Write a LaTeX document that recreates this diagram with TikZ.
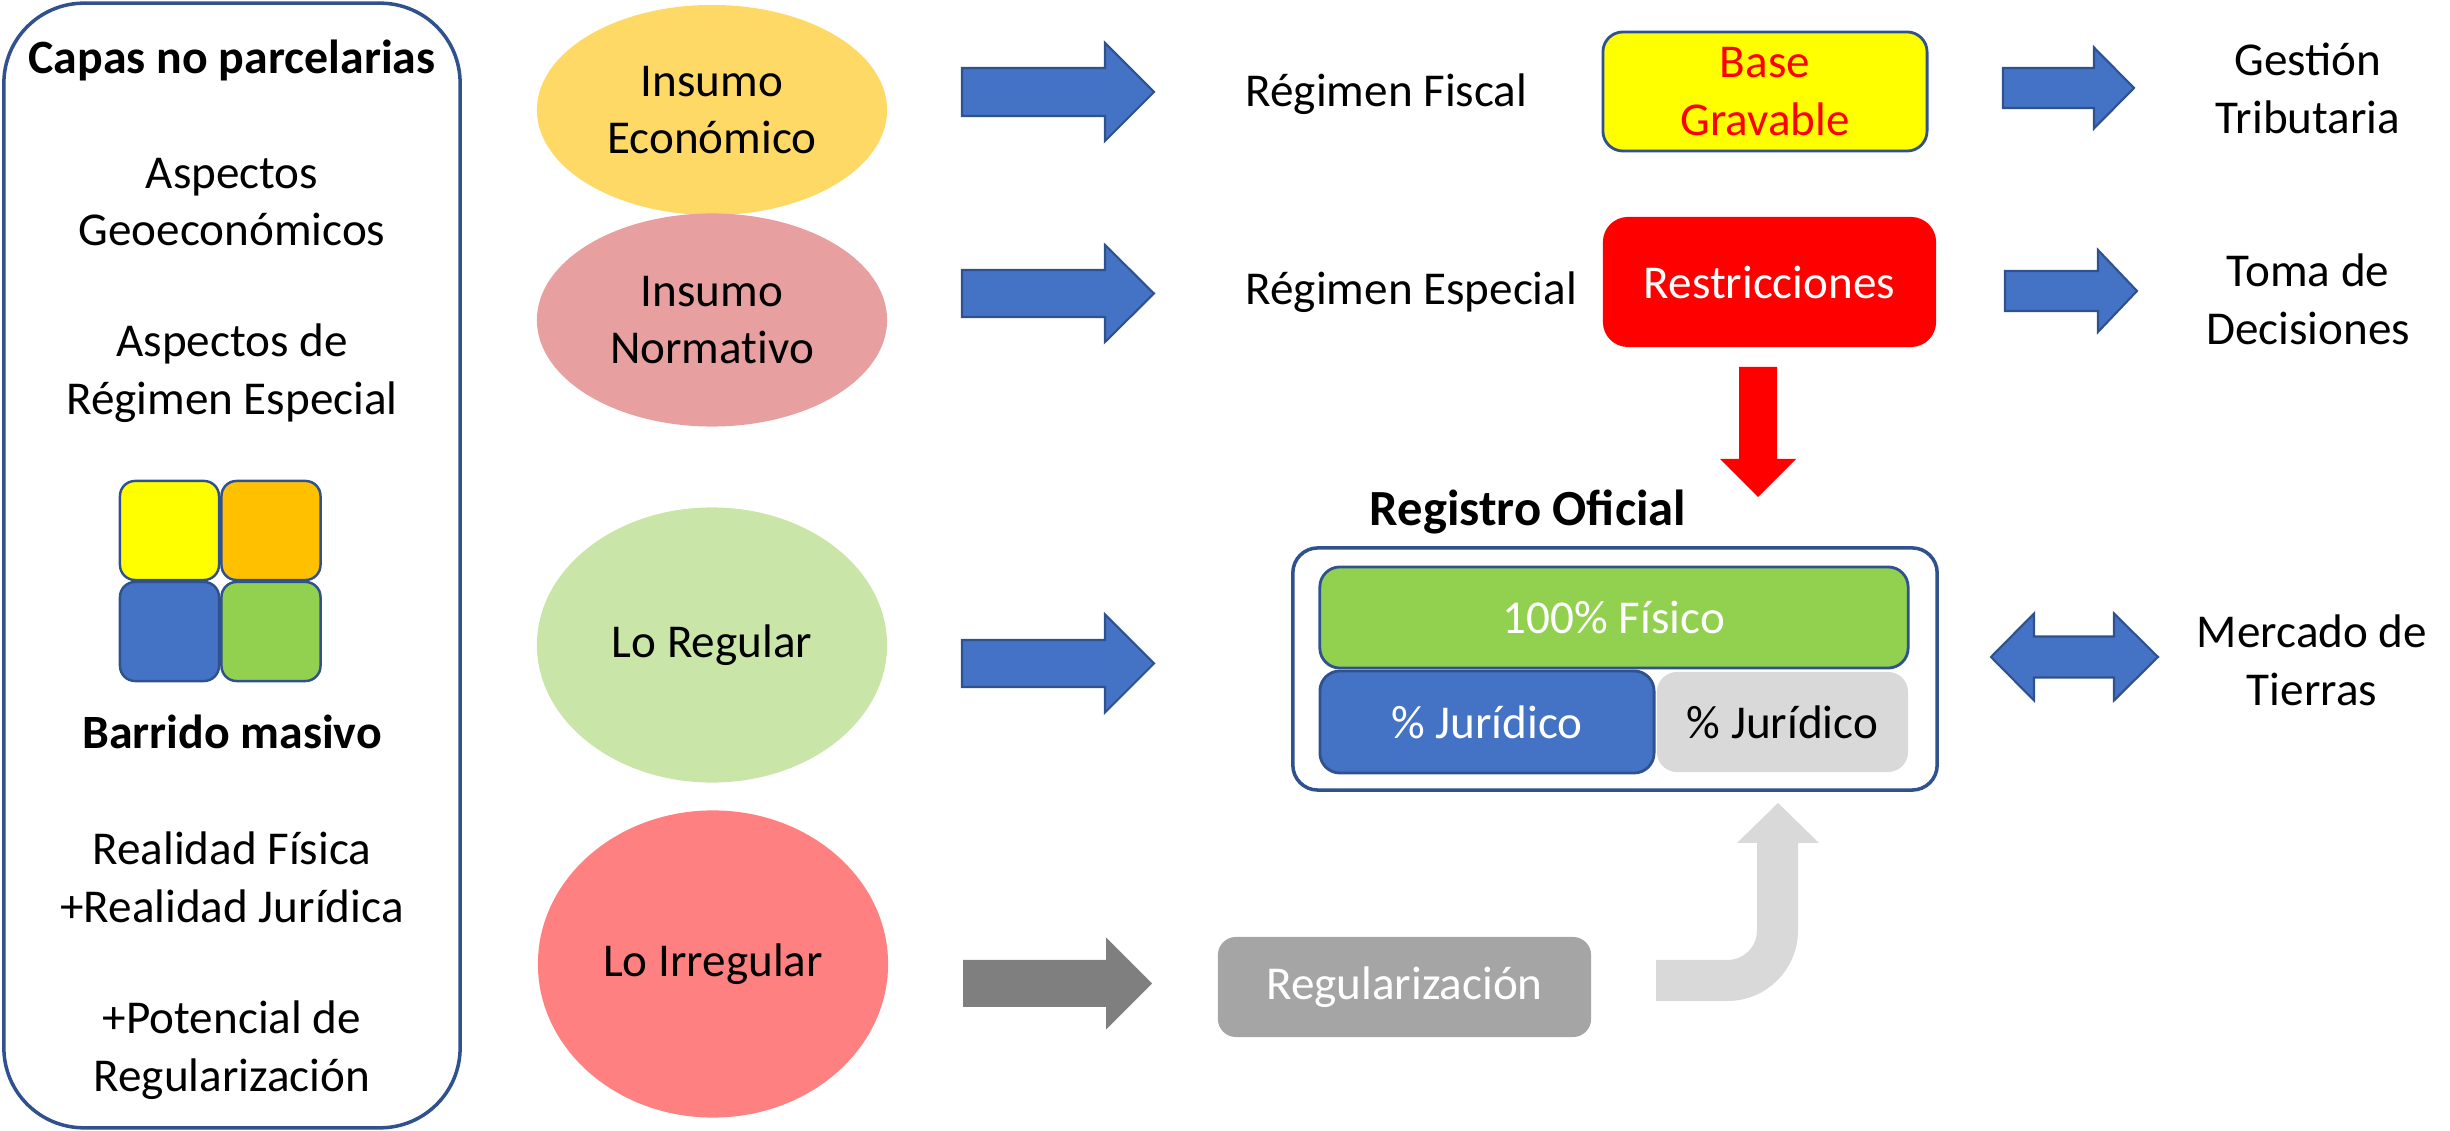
\documentclass[tikz,border=0pt]{standalone}
\usepackage{fontspec}
\setmainfont{Carlito}
\usetikzlibrary{shapes.geometric}

\definecolor{azul}{HTML}{4472C4}
\definecolor{azulborde}{HTML}{2F528F}
\definecolor{oro}{HTML}{FFD966}
\definecolor{rosa}{HTML}{E79F9F}
\definecolor{verdeclaro}{HTML}{C9E5A7}
\definecolor{salmon}{HTML}{FF8080}
\definecolor{verde}{HTML}{92D050}
\definecolor{naranja}{HTML}{FFC000}
\definecolor{amarillo}{HTML}{FFFF00}
\definecolor{rojo}{HTML}{FF0000}
\definecolor{grisclaro}{HTML}{D9D9D9}
\definecolor{gris}{HTML}{A5A5A5}
\definecolor{grisoscuro}{HTML}{7F7F7F}

% block arrow pointing right: style, x start, x head base, x tip, y, shaft half, head half
\newcommand{\flechader}[7]{%
  \path[#1] (#2,#5-#6) -- (#3,#5-#6) -- (#3,#5-#7) -- (#4,#5) -- (#3,#5+#7) -- (#3,#5+#6) -- (#2,#5+#6) -- cycle;}

\begin{document}
\begin{tikzpicture}[x=0.01cm, y=-0.01cm,
    font=\fontsize{13.4}{16.4}\selectfont,
    txt/.style={inner sep=0pt, align=center},
    insumo/.style={ellipse, inner sep=0pt, minimum width=3.5cm, align=center},
    caja/.style={rectangle, inner sep=0pt, align=center, rounded corners=0.2cm},
    cuadro/.style={rectangle, draw=azulborde, line width=0.7pt, rounded corners=0.15cm, minimum width=0.99cm, minimum height=0.99cm},
    flechaazul/.style={fill=azul, draw=azulborde, line width=0.6pt},
    flechagris/.style={fill=grisoscuro},
    flecharoja/.style={fill=rojo}]
  \useasboundingbox (0,0) rectangle (2450,1131);

  % left column
  \node[rectangle, draw=azulborde, line width=1pt, rounded corners=0.8cm, minimum width=4.56cm, minimum height=11.24cm] (capas) at (232,565.5) {};
  \node[txt, font=\fontsize{13.6}{16.4}\selectfont\bfseries] (capasT) at (232,60) {Capas no parcelarias};
  \node[txt] (geoeco) at (232,202) {Aspectos\\Geoeconómicos};
  \node[txt] (regesp) at (232,373) {Aspectos de\\Régimen Especial};
  \node[cuadro, fill=amarillo] (sq1) at (169.5,530.5) {};
  \node[cuadro, fill=naranja] (sq2) at (271,530.5) {};
  \node[cuadro, fill=azul] (sq3) at (169.5,631.5) {};
  \node[cuadro, fill=verde] (sq4) at (271,631.5) {};
  \node[txt, font=\fontsize{13.6}{16.4}\selectfont\bfseries] (barrido) at (232,732) {Barrido masivo};
  \node[txt] (realidad) at (232,877) {Realidad Física\\+Realidad Jurídica};
  \node[txt] (potencial) at (232,1050) {+Potencial de\\Regularización};

  % inputs
  \node[insumo, fill=oro, minimum height=2.1cm] (insEco) at (712,110) {Insumo\\Económico};
  \node[insumo, fill=rosa, minimum height=2.13cm] (insNorm) at (712,320) {Insumo\\Normat\kern0pt ivo};
  \node[insumo, fill=verdeclaro, minimum height=2.75cm] (regular) at (712,645) {Lo Regular};
  \node[insumo, fill=salmon, minimum height=3.07cm] (irregular) at (713,964) {Lo Irregular};

  \flechader{flechaazul}{962}{1105}{1154}{92}{24}{49}
  \flechader{flechaazul}{962}{1105}{1154}{293.5}{23.5}{48.5}
  \flechader{flechaazul}{962}{1105}{1154}{663.5}{23.5}{49}
  \flechader{flechagris}{963}{1106}{1152}{983.5}{23.5}{46}

  % regimes
  \node[txt, anchor=west] (fiscal) at (1245,94) {Régimen Fiscal};
  \node[txt, anchor=west] (especial) at (1245,292) {Régimen Especial};
  \node[caja, fill=amarillo, draw=azulborde, line width=0.8pt, text=rojo, minimum width=3.24cm, minimum height=1.19cm] (base) at (1765,91.5) {Base\\Gravable};
  \node[caja, fill=rojo, text=white, rounded corners=0.25cm, minimum width=3.33cm, minimum height=1.3cm] (restric) at (1769.5,282) {Restricciones};

  \flechader{flechaazul}{2003}{2094}{2134}{88}{20}{40.5}
  \flechader{flechaazul}{2005}{2098}{2137}{291}{20}{41}
  \node[txt] (gestion) at (2308,88.5) {Gestión\\Tributaria};
  \node[txt] (toma) at (2308,299.5) {Toma de\\Decisiones};

  % restrictions down to the register
  \fill[rojo] (1739,367) -- (1777,367) -- (1777,459) -- (1796,459) -- (1758,497) -- (1720,459) -- (1739,459) -- cycle;

  % official register
  \node[txt, font=\fontsize{14.4}{17}\selectfont\bfseries] (registroT) at (1528,512) {Registro Oficial};
  \node[caja, draw=azulborde, line width=1pt, rounded corners=0.25cm, minimum width=6.44cm, minimum height=2.42cm] (registro) at (1615,669) {};
  \node[caja, fill=verde, draw=azulborde, line width=0.8pt, text=white, minimum width=5.88cm, minimum height=1.01cm] (fisico) at (1614,617.5) {100\% Físico};
  \node[caja, fill=azul, draw=azulborde, line width=0.8pt, text=white, minimum width=3.34cm, minimum height=1.02cm] (jur1) at (1487,722) {\% Jurídico};
  \node[caja, fill=grisclaro, minimum width=2.51cm, minimum height=1.0cm] (jur2) at (1782.5,722) {\% Jurídico};

  % land market
  \draw[flechaazul] (1991,657) -- (2034,613.5) -- (2034,636.5) -- (2114,636.5) -- (2114,613.5) -- (2158,657) -- (2114,700.5) -- (2114,677.5) -- (2034,677.5) -- (2034,700.5) -- cycle;
  \node[txt] (mercado) at (2312,660) {Mercado de\\Tierras};

  % regularization
  \node[caja, fill=gris, text=white, rounded corners=0.18cm, minimum width=3.73cm, minimum height=1.0cm] (regul) at (1404.5,987) {Regularización};
  \draw[grisclaro, line width=0.41cm, rounded corners=0.5cm] (1656,980.5) -| (1777.5,842);
  \fill[grisclaro] (1737,843) -- (1778,803) -- (1819,843) -- cycle;
\end{tikzpicture}
\end{document}
